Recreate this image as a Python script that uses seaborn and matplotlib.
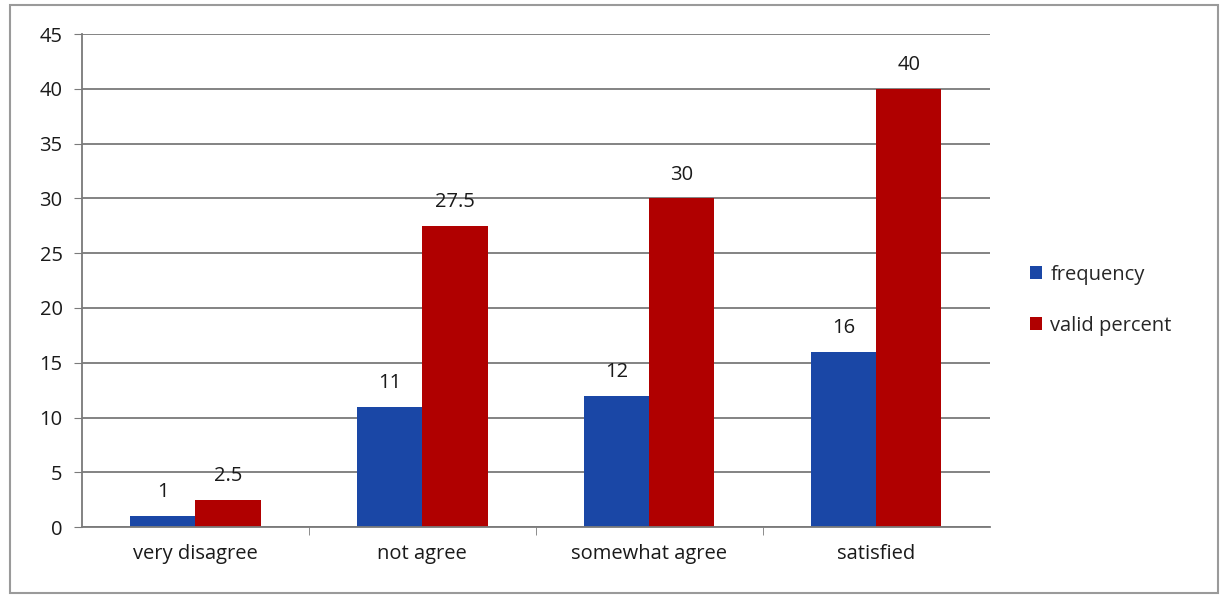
import matplotlib
matplotlib.use("Agg")
import matplotlib.pyplot as plt
import seaborn as sns
import pandas as pd
from matplotlib.patches import Rectangle
from matplotlib.ticker import FixedLocator

categories = ["very disagree", "not agree", "somewhat agree", "satisfied"]
frequency = [1, 11, 12, 16]
valid_percent = [2.5, 27.5, 30, 40]
series_names = ["frequency", "valid percent"]
colors = ["#1A47A6", "#B00000"]

df = pd.DataFrame({
    "category": categories * 2,
    "series": [series_names[0]] * 4 + [series_names[1]] * 4,
    "value": frequency + valid_percent,
})

sns.set_style("white")
plt.rcParams["font.family"] = ["Open Sans", "DejaVu Sans"]

fig = plt.figure(figsize=(12.28, 5.97), dpi=100)
ax = fig.add_axes([0.0668, 0.117, 0.739, 0.826])

sns.barplot(data=df, x="category", y="value", hue="series", order=categories,
            hue_order=series_names, palette=colors, width=0.575, saturation=1,
            linewidth=0, ax=ax, legend=True)

for cont in ax.containers:
    labels = [f"{v:g}" for v in cont.datavalues]
    ax.bar_label(cont, labels=labels, padding=10, fontsize=14.5, color="#1a1a1a")

ax.set_ylim(0, 45)
ax.set_yticks(range(0, 46, 5))
ax.set_xlim(-0.5, 3.5)
ax.set_xlabel("")
ax.set_ylabel("")
ax.yaxis.grid(True, color="#7a7a7a", linewidth=1.3)
ax.set_axisbelow(True)
for s in ["top", "right"]:
    ax.spines[s].set_visible(False)
for s in ["left", "bottom"]:
    ax.spines[s].set_color("#7a7a7a")
    ax.spines[s].set_linewidth(1.3)
ax.tick_params(axis="y", length=6, color="#7a7a7a", labelsize=14.5, pad=8,
               labelcolor="#1a1a1a", left=True)
ax.tick_params(axis="x", length=0, labelsize=14.5, pad=12, labelcolor="#1a1a1a")
ax.xaxis.set_minor_locator(FixedLocator([0.5, 1.5, 2.5]))
ax.tick_params(axis="x", which="minor", length=6, color="#7a7a7a", bottom=True)

ax.legend(loc="center left", bbox_to_anchor=(1.025, 0.46), frameon=False,
          fontsize=14.5, handlelength=0.6, handleheight=0.6, handletextpad=0.4,
          labelspacing=1.55, title=None)

fig.patches.append(Rectangle((0.008, 0.006), 0.984, 0.985, transform=fig.transFigure,
                             fill=False, edgecolor="#9a9a9a", linewidth=1.5))

fig.savefig("out.png", dpi=100)
